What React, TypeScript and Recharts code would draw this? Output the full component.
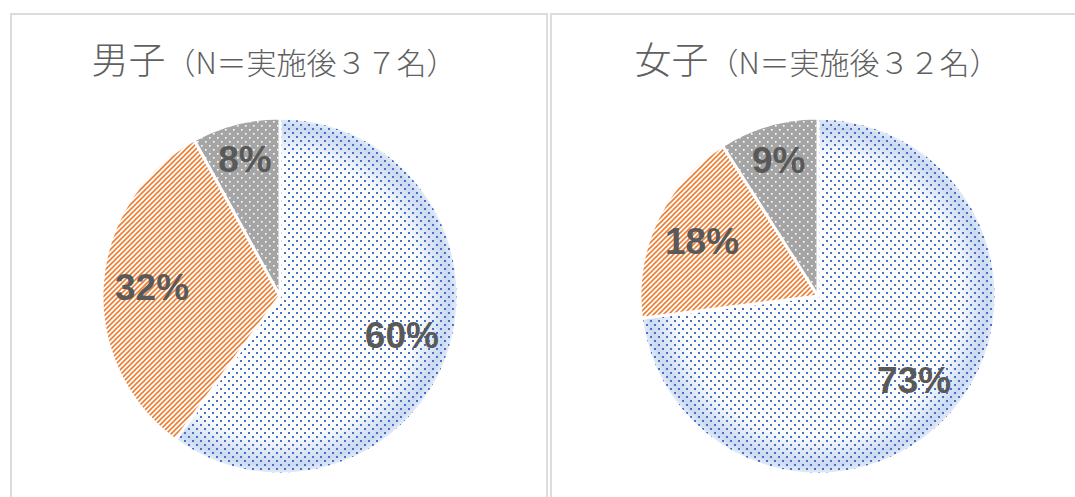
import React from 'react';
import { PieChart, Pie, Cell } from 'recharts';

// slice order: clockwise from 12 o'clock
const categories = ['回答1', '回答2', '回答3'];
const maleValues = [60, 32, 8];
const femaleValues = [73, 18, 9];
const maleTitle = ['男子', '（N＝実施後３７名）'];
const femaleTitle = ['女子', '（N＝実施後３２名）'];

const CX = 280;
const CY = 296;
const R = 178;
const RADIAN = Math.PI / 180;

const renderLabel = (props: any) => {
  const { cx, cy, midAngle, outerRadius, value, percent } = props;
  // small slices get their label pushed further out, like Excel's best fit
  const r = outerRadius * (percent < 0.1 ? 0.79 : 0.72);
  const x = cx + r * Math.cos(-midAngle * RADIAN);
  const y = cy + r * Math.sin(-midAngle * RADIAN);
  return (
    <text
      x={x}
      y={y}
      textAnchor="middle"
      dominantBaseline="central"
      fill="#595959"
      fontFamily="'Liberation Sans', Arial, sans-serif"
      fontWeight="bold"
      fontSize={37}
    >
      {`${value}%`}
    </text>
  );
};

function PanelChart({ id, values, left, width }: { id: string; values: number[]; left: number; width: number }) {
  const data = categories.map((name, i) => ({ name, value: values[i] }));
  return (
    <div style={{ position: 'absolute', left, top: 0 }}>
      <PieChart width={width} height={497} margin={{ top: 0, right: 0, bottom: 0, left: 0 }}>
        <defs>
          <radialGradient id={`${id}-glow`} gradientUnits="userSpaceOnUse" cx={CX} cy={CY} r={R}>
            <stop offset="0%" stopColor="#ffffff" />
            <stop offset="78%" stopColor="#ffffff" />
            <stop offset="95%" stopColor="#ccd9f1" />
            <stop offset="100%" stopColor="#e6edf8" />
          </radialGradient>
          <pattern id={`${id}-dots`} width="8" height="8" patternUnits="userSpaceOnUse">
            <rect x="0" y="0" width="2" height="2" fill="#4472C4" />
            <rect x="4" y="4" width="2" height="2" fill="#4472C4" />
          </pattern>
          <pattern id={`${id}-stripes`} width="5" height="5" patternUnits="userSpaceOnUse">
            <rect x="0" y="0" width="5" height="5" fill="#ffffff" />
            <path d="M-1,1 L1,-1 M0,5 L5,0 M4,6 L6,4" stroke="#ED7D31" strokeWidth="1.6" />
          </pattern>
          <pattern id={`${id}-gray`} width="8" height="8" patternUnits="userSpaceOnUse">
            <rect x="0" y="0" width="8" height="8" fill="#A5A5A5" />
            <rect x="1" y="1" width="1.6" height="1.6" fill="#ffffff" />
            <rect x="5" y="5" width="1.6" height="1.6" fill="#ffffff" />
          </pattern>
        </defs>
        <Pie
          data={data}
          dataKey="value"
          cx={CX}
          cy={CY}
          outerRadius={R}
          startAngle={90}
          endAngle={-270}
          stroke="none"
          isAnimationActive={false}
        >
          <Cell fill={`url(#${id}-glow)`} />
          <Cell fill="#ffffff" />
          <Cell fill="#A5A5A5" />
        </Pie>
        <Pie
          data={data}
          dataKey="value"
          cx={CX}
          cy={CY}
          outerRadius={R}
          startAngle={90}
          endAngle={-270}
          stroke="#ffffff"
          strokeWidth={3}
          label={renderLabel}
          labelLine={false}
          isAnimationActive={false}
        >
          <Cell fill={`url(#${id}-dots)`} />
          <Cell fill={`url(#${id}-stripes)`} />
          <Cell fill={`url(#${id}-gray)`} />
        </Pie>
      </PieChart>
    </div>
  );
}

function Title({ parts, center }: { parts: string[]; center: number }) {
  return (
    <div
      style={{
        position: 'absolute',
        left: center - 250,
        top: 36,
        width: 500,
        textAlign: 'center',
        color: '#606060',
        fontFamily: "'Noto Sans CJK JP', sans-serif",
        fontWeight: 300,
        lineHeight: '44px',
        whiteSpace: 'nowrap',
      }}
    >
      <span style={{ fontSize: 37 }}>{parts[0]}</span>
      <span style={{ fontSize: 30 }}>{parts[1]}</span>
    </div>
  );
}

export default function App() {
  const border = '2px solid #dcdcdc';
  return (
    <div style={{ position: 'absolute', left: 0, top: 0, width: 1075, height: 497, overflow: 'hidden', background: '#ffffff' }}>
      <div style={{ position: 'absolute', left: 10, top: 13, width: 534, height: 500, borderTop: border, borderLeft: border, borderRight: border }} />
      <div style={{ position: 'absolute', left: 550, top: 13, width: 560, height: 500, borderTop: border, borderLeft: border, borderRight: border }} />
      <Title parts={maleTitle} center={274} />
      <Title parts={femaleTitle} center={817} />
      <PanelChart id="male" values={maleValues} left={0} width={538} />
      <PanelChart id="female" values={femaleValues} left={538} width={537} />
    </div>
  );
}
